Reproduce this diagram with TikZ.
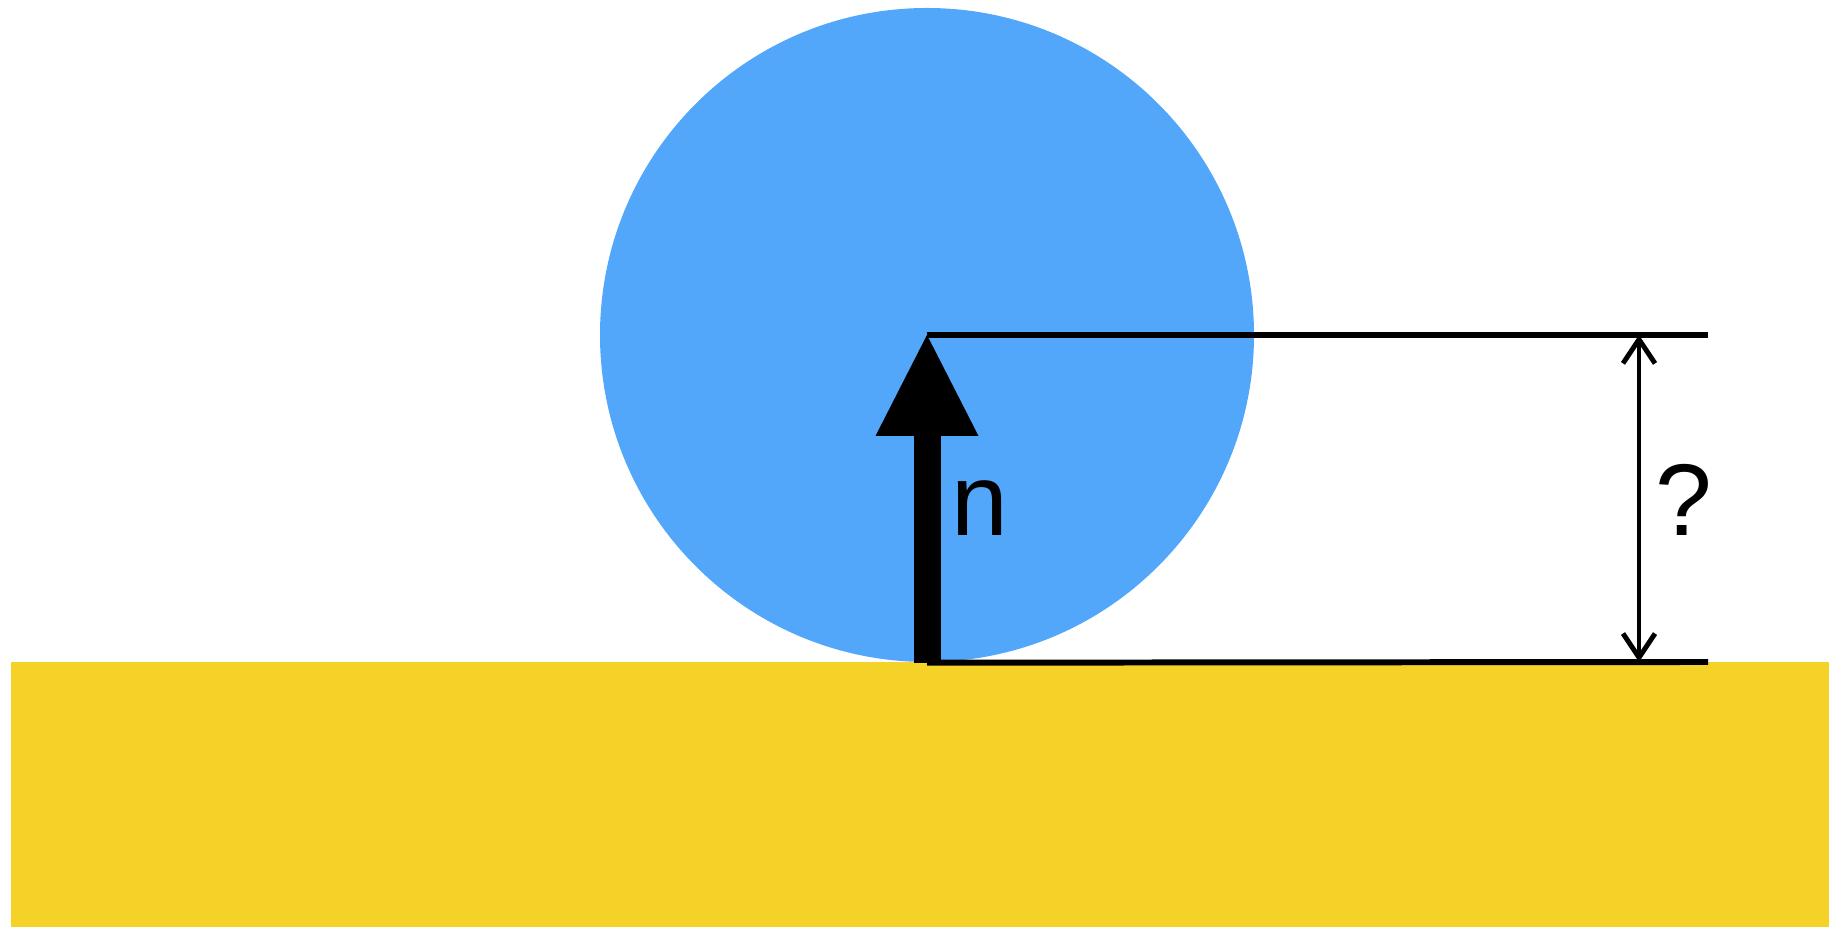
\documentclass[tikz,border=0pt]{standalone}
\usepackage{fontspec}
\setmainfont{Liberation Sans}
\usepackage{tikz}
\usetikzlibrary{arrows.meta}

\definecolor{ballblue}{HTML}{52A7FA}
\definecolor{groundyel}{HTML}{F5D227}

\begin{document}
\begin{tikzpicture}[
  ground/.style={fill=groundyel, draw=none},
  ball/.style={circle, fill=ballblue, draw=none,
               minimum size=6.54cm, inner sep=0pt},
  ref/.style={line width=1.7pt},
  normal/.style={line width=0.27cm,
                 -{Triangle[length=1.01cm, width=1.03cm, line width=0pt]}},
  dimarr/.style={line width=1.4pt,
                 {Straight Barb[length=0.24cm, width=0.32cm]}-{Straight Barb[length=0.24cm, width=0.32cm]}},
  lbl/.style={font=\fontsize{29}{34}\selectfont, inner sep=0pt},
]
\useasboundingbox (0,0) rectangle (18.29,9.27);

%% ---- Ground and ball ----
\fill[ground] (0.11,0) rectangle (18.29,2.65);
\node[ball] (sph) at (9.27,5.92) {};

%% ---- Reference lines ----
\coordinate (topend) at (17.08,5.92);
\coordinate (botend) at (17.08,2.65);
\draw[ref] (sph.center) -- (topend);
\draw[ref] (sph.south) -- (botend);

%% ---- Normal vector ----
\draw[normal] (sph.south) -- (sph.center);
\node[lbl] (nlab) at (9.80,4.19) {n};

%% ---- Distance ----
\coordinate (dtop) at (16.39,5.92);
\coordinate (dbot) at (16.39,2.65);
\draw[dimarr] (dtop) -- (dbot);
\node[lbl] (qlab) at (16.84,4.27) {?};

\end{tikzpicture}
\end{document}
